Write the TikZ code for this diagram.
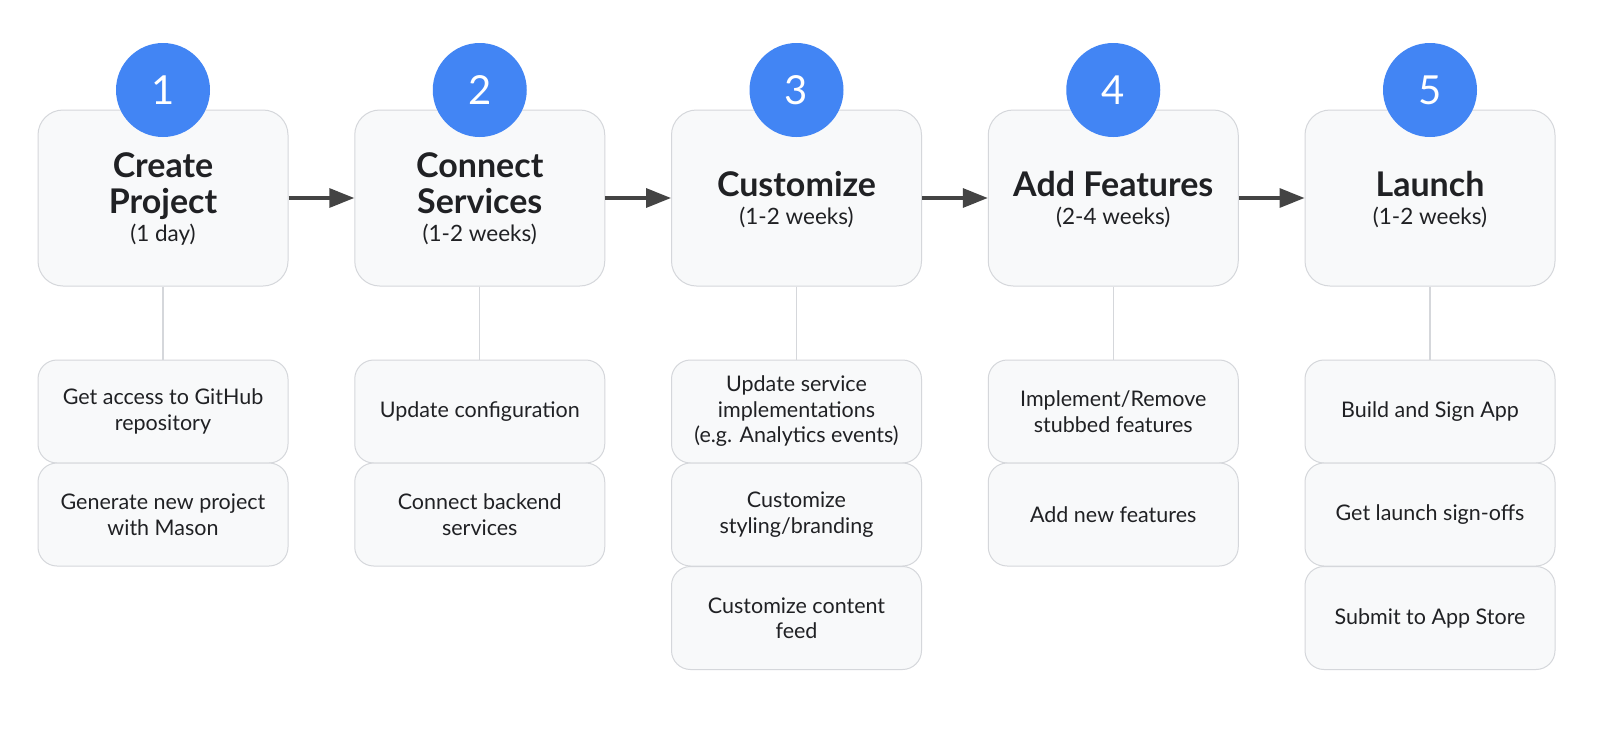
\documentclass[tikz,border=0pt]{standalone}
\usepackage{fontspec}
\setmainfont{Lato}
\usetikzlibrary{arrows.meta}
\definecolor{gblue}{HTML}{4285F4}
\definecolor{boxfill}{HTML}{F8F9FA}
\definecolor{boxline}{HTML}{D5D7DB}
\definecolor{txt}{HTML}{202124}
\definecolor{arr}{HTML}{444444}
\begin{document}
\begin{tikzpicture}[x=1pt,y=-1pt,
  mainbox/.style={draw=boxline, fill=boxfill, line width=1pt, rounded corners=25pt,
    minimum width=250pt, minimum height=176pt, inner sep=0pt},
  subbox/.style={draw=boxline, fill=boxfill, line width=1pt, rounded corners=19pt,
    minimum width=250pt, minimum height=103pt, inner sep=0pt, align=center, text=txt,
    font=\fontsize{21.5}{25.5}\selectfont},
  numc/.style={circle, fill=gblue, minimum size=94pt, inner sep=0pt, text=white,
    font=\fontsize{40}{40}\selectfont},
  ttl/.style={anchor=base, text=txt, font=\fontsize{34}{36}\bfseries\selectfont, inner sep=0pt},
  dur/.style={anchor=base, text=txt, font=\fontsize{22.5}{25}\selectfont, inner sep=0pt},
  stem/.style={draw=boxline, line width=1.3pt},
  flow/.style={draw=arr, line width=3.3pt, -{Triangle[length=25pt,width=19pt]}}
]
\useasboundingbox[fill=white] (0,0) rectangle (1600,750);

% main boxes
\node[mainbox] (m1) at (163,198) {};
\node[mainbox] (m2) at (479.75,198) {};
\node[mainbox] (m3) at (796.5,198) {};
\node[mainbox] (m4) at (1113.25,198) {};
\node[mainbox] (m5) at (1430,198) {};

% number circles
\node[numc] (c1) at (163,90) {1};
\node[numc] (c2) at (479.75,90) {2};
\node[numc] (c3) at (796.5,90) {3};
\node[numc] (c4) at (1113.25,90) {4};
\node[numc] (c5) at (1430,90) {5};

% titles
\node[ttl] (t1a) at (163,177) {Create};
\node[ttl] (t1b) at (163,213) {Project};
\node[dur] (d1) at (163,241) {(1 day)};
\node[ttl] (t2a) at (479.75,177) {Connect};
\node[ttl] (t2b) at (479.75,213) {Services};
\node[dur] (d2) at (479.75,241) {(1-2 weeks)};
\node[ttl] (t3) at (796.5,196) {Customize};
\node[dur] (d3) at (796.5,224) {(1-2 weeks)};
\node[ttl] (t4) at (1113.25,196) {Add Features};
\node[dur] (d4) at (1113.25,224) {(2-4 weeks)};
\node[ttl] (t5) at (1430,196) {Launch};
\node[dur] (d5) at (1430,224) {(1-2 weeks)};

% sub boxes
\node[subbox] (s1a) at (163,411.5) {Get access to GitHub\\repository};
\node[subbox] (s1b) at (163,514.5) {Generate new project\\with Mason};
\node[subbox] (s2a) at (479.75,411.5) {Update configuration};
\node[subbox] (s2b) at (479.75,514.5) {Connect backend\\services};
\node[subbox] (s3a) at (796.5,411.5) {Update service\\implementations\\(e.g. Analytics events)};
\node[subbox] (s3b) at (796.5,514.5) {Customize\\styling/branding};
\node[subbox] (s3c) at (796.5,618) {Customize content\\feed};
\node[subbox] (s4a) at (1113.25,411.5) {Implement/Remove\\stubbed features};
\node[subbox] (s4b) at (1113.25,514.5) {Add new features};
\node[subbox] (s5a) at (1430,411.5) {Build and Sign App};
\node[subbox] (s5b) at (1430,514.5) {Get launch sign-offs};
\node[subbox] (s5c) at (1430,618) {Submit to App Store};

% stems
\draw[stem] (m1.south) -- (s1a.north);
\draw[stem] (m2.south) -- (s2a.north);
\draw[stem] (m3.south) -- (s3a.north);
\draw[stem] (m4.south) -- (s4a.north);
\draw[stem] (m5.south) -- (s5a.north);

% arrows
\draw[flow] (m1.east) -- (m2.west);
\draw[flow] (m2.east) -- (m3.west);
\draw[flow] (m3.east) -- (m4.west);
\draw[flow] (m4.east) -- (m5.west);
\end{tikzpicture}
\end{document}
